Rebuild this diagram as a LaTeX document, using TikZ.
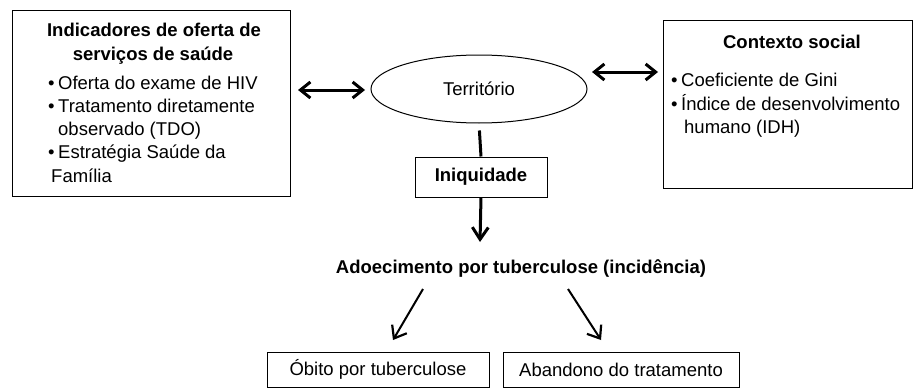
\documentclass[tikz,border=0pt]{standalone}
\usepackage{fontspec}
\setmainfont{Liberation Sans}
\usetikzlibrary{arrows.meta,shapes.geometric,calc}
\begin{document}
\begin{tikzpicture}[x=1pt,y=-1pt,
  box/.style={draw, line width=1pt, inner sep=0pt, rectangle},
  txt/.style={inner sep=0pt, font=\fontsize{18.5}{22}\selectfont},
  btxt/.style={inner sep=0pt, font=\fontsize{18.5}{22}\selectfont\bfseries},
  dblarrow/.style={line width=3pt, {Straight Barb[length=10pt,width=16pt,line width=3pt]}-{Straight Barb[length=10pt,width=16pt,line width=3pt]}},
  downarrow/.style={line width=3pt, -{Straight Barb[length=12pt,width=16pt,line width=3pt]}},
  diagarrow/.style={line width=2pt, -{Straight Barb[length=11pt,width=17pt,line width=2.2pt]}},
  link/.style={line width=3pt}
]
\useasboundingbox (0,0) rectangle (914,388);

% left box
\node[box, minimum width=278pt, minimum height=186pt] (lbox) at (151,103.5) {};
\node[btxt, anchor=base] (lt1) at (154,36) {Indicadores de oferta de};
\node[btxt, anchor=base] (lt2) at (153,60) {serviços de saúde};
\node[txt, anchor=base west] (lb1) at (48,89) {•\hspace{3.5pt}Oferta do exame de HIV};
\node[txt, anchor=base west] (lb2) at (48,112) {•\hspace{3.5pt}Tratamento diretamente};
\node[txt, anchor=base west] (lb3) at (58,135) {observado (TDO)};
\node[txt, anchor=base west] (lb4) at (48,158) {•\hspace{3.5pt}Estratégia Saúde da};
\node[txt, anchor=base west] (lb5) at (51,182) {Família};

% right box
\node[box, minimum width=249pt, minimum height=168pt] (rbox) at (787.5,104) {};
\node[btxt, anchor=base] (rt1) at (792,48) {Contexto social};
\node[txt, anchor=base west] (rb1) at (671,86) {•\hspace{3.5pt}Coeficiente de Gini};
\node[txt, anchor=base west] (rb2) at (671,110) {•\hspace{3.5pt}Índice de desenvolvimento};
\node[txt, anchor=base west] (rb3) at (684,133) {humano (IDH)};

% territorio
\node[draw, ellipse, line width=1pt, minimum width=216pt, minimum height=68pt, inner sep=0pt, font=\fontsize{18.5}{22}\selectfont] (terr) at (479,89) {Território};

% iniquidade
\node[box, minimum width=132pt, minimum height=40pt, font=\fontsize{18.5}{22}\selectfont\bfseries] (iniq) at (481,177) {Iniquidade};

% adoecimento
\node[btxt, anchor=base] (adoe) at (521,273) {Adoecimento por tuberculose (incidência)};

% bottom boxes
\node[box, minimum width=222pt, minimum height=35pt, font=\fontsize{18.5}{22}\selectfont] (obito) at (378,369.5) {Óbito por tuberculose};
\node[box, minimum width=236pt, minimum height=35pt, font=\fontsize{18.5}{22}\selectfont] (aband) at (621,369.5) {Abandono do tratamento};

% connectors
\coordinate (la1) at (298,90);
\coordinate (la2) at (365,90);
\coordinate (ra1) at (592,72);
\coordinate (ra2) at (658,72);
\draw[dblarrow] (la1) -- (la2);
\draw[dblarrow] (ra1) -- (ra2);
\draw[link, shorten <=7pt] (terr.south) -- (iniq.north);
\coordinate (dtip) at (480,242);
\draw[downarrow] (iniq.south) -- (dtip);
\coordinate (a1s) at (423,289);
\coordinate (a1e) at (393,340);
\coordinate (a2s) at (568,289);
\coordinate (a2e) at (601,340);
\draw[diagarrow] (a1s) -- (a1e);
\draw[diagarrow] (a2s) -- (a2e);
\end{tikzpicture}
\end{document}
